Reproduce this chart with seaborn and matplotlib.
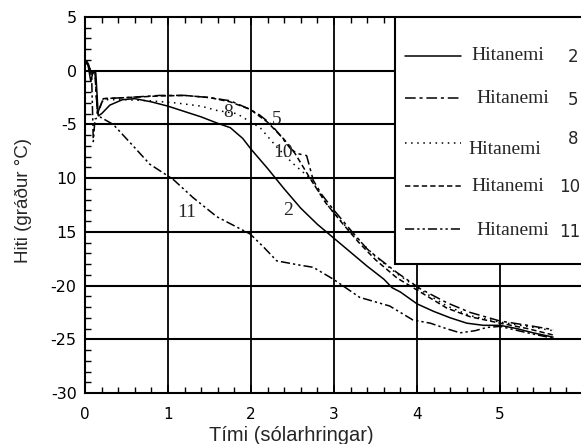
import numpy as np
import pandas as pd
import matplotlib
matplotlib.use("Agg")
import matplotlib.pyplot as plt
from matplotlib.patches import Rectangle
from matplotlib.ticker import MultipleLocator, FixedLocator
import seaborn as sns

# ---- data ----
x2 = [0, 0.03, 0.07, 0.1, 0.13, 0.16, 0.2, 0.3, 0.45, 0.6, 0.8, 1.0, 1.2, 1.4, 1.6, 1.75, 1.9, 2.0,
      2.2, 2.4, 2.6, 2.8, 3.0, 3.2, 3.4, 3.6, 3.7, 3.8, 4.0, 4.2, 4.4, 4.6, 4.8, 5.0, 5.2, 5.4, 5.64]
y2 = [1.0, 0.8, -1.0, 0.0, -0.2, -4.2, -4.0, -3.2, -2.7, -2.6, -2.9, -3.3, -3.8, -4.3, -4.9, -5.3, -6.3, -7.3,
      -9.1, -11.0, -12.8, -14.3, -15.6, -16.9, -18.2, -19.4, -20.2, -20.6, -21.7, -22.4, -23.0, -23.5, -23.7,
      -23.7, -24.0, -24.4, -24.8]

x5 = [0, 0.04, 0.08, 0.12, 0.15, 0.22, 0.5, 0.9, 1.2, 1.5, 1.75, 1.99, 2.1, 2.23, 2.35, 2.47, 2.55, 2.67,
      2.75, 2.85, 2.99, 3.23, 3.4, 3.51, 3.76, 4.04, 4.36, 4.64, 5.0, 5.33, 5.64]
y5 = [0.9, 0.6, -0.3, -0.1, -4.0, -2.6, -2.5, -2.3, -2.3, -2.5, -2.8, -3.6, -4.1, -4.9, -6.0, -7.2, -7.7, -7.9,
      -10.2, -11.5, -12.9, -15.1, -16.6, -17.3, -18.8, -20.3, -21.6, -22.5, -23.3, -23.7, -24.1]

x8 = [0, 0.04, 0.08, 0.12, 0.15, 0.22, 0.5, 0.78, 1.1, 1.4, 1.59, 1.83, 2.11, 2.31, 2.5, 2.71, 2.95, 3.2,
      3.5, 3.76, 4.04, 4.36, 4.64, 5.0, 5.33, 5.64]
y8 = [0.9, 0.6, -0.3, -0.1, -4.0, -2.7, -2.7, -2.8, -3.0, -3.3, -3.7, -4.0, -5.3, -7.1, -8.6, -10.0, -12.8, -15.0,
      -17.3, -18.9, -20.4, -21.9, -22.8, -23.4, -23.8, -24.2]

x10 = [0, 0.04, 0.08, 0.12, 0.15, 0.22, 0.5, 0.9, 1.2, 1.5, 1.75, 1.99, 2.2, 2.4, 2.53, 2.71, 2.9, 3.1,
       3.3, 3.5, 3.76, 4.04, 4.36, 4.64, 5.0, 5.33, 5.64]
y10 = [0.9, 0.6, -0.3, -0.1, -4.0, -2.6, -2.5, -2.35, -2.3, -2.5, -2.9, -3.6, -4.8, -6.4, -7.7, -10.0, -12.3, -14.2,
       -16.0, -17.6, -19.3, -20.6, -22.1, -22.9, -23.5, -24.0, -24.6]

x11 = [0, 0.04, 0.08, 0.1, 0.12, 0.18, 0.34, 0.58, 0.78, 1.06, 1.3, 1.59, 1.99, 2.15, 2.31, 2.59, 2.75, 2.99,
       3.31, 3.67, 3.95, 4.16, 4.35, 4.52, 4.7, 4.84, 5.0, 5.33, 5.64]
y11 = [0.8, 0.5, -0.5, -6.6, -4.5, -4.3, -5.0, -7.0, -8.7, -10.1, -11.8, -13.6, -15.2, -16.4, -17.7, -18.1, -18.3,
       -19.4, -21.1, -21.9, -23.2, -23.5, -24.0, -24.4, -24.2, -23.9, -23.8, -24.4, -24.9]

sensors = ["2", "5", "8", "10", "11"]
legend_text = "Hitanemi"
curve_labels = ["8", "5", "10", "11", "2"]
curve_label_x = [1.72, 2.31, 2.39, 1.22, 2.45]
curve_label_y = [-3.9, -4.5, -7.6, -13.2, -13.0]
xticks = [0, 1, 2, 3, 4, 5]
yticks = [-30, -25, -20, -15, -10, -5, 0, 5]
ytick_labels = ["-30", "-25", "-20", "15", "10", "-5", "0", "5"]
xlabel = "Tími (sólarhringar)"
ylabel = "Hiti (gráður °C)"

series = {"2": (x2, y2), "5": (x5, y5), "8": (x8, y8), "10": (x10, y10), "11": (x11, y11)}
frames = []
for k, (xs, ys) in series.items():
    frames.append(pd.DataFrame({"t": xs, "T": ys, "sensor": k}))
df = pd.concat(frames, ignore_index=True)

dashes = {"2": "", "5": (7, 2.5, 2, 2.5), "8": (1, 3), "10": (3.5, 2), "11": (6, 2, 1.5, 2, 1.5, 2)}

sns.set_style("ticks")
plt.rcParams["font.family"] = ["DejaVu Sans"]

fig = plt.figure(figsize=(5.81, 4.44), dpi=100)
ax = fig.add_axes([85 / 581, 1 - 393 / 444, 1 - 85 / 581, (393 - 17) / 444])

sns.lineplot(data=df, x="t", y="T", style="sensor", dashes=dashes, color="black",
             sort=False, estimator=None, units="sensor", legend=False, linewidth=1.1, ax=ax, zorder=3)

ax.set_xlim(0, 496 / 83)
ax.set_ylim(-30, 5)

# grid
for yv in [0, -5, -10, -15, -20, -25]:
    ax.axhline(yv, color="black", lw=1.5, zorder=1)
for xv in [1, 2, 3, 4, 5]:
    ax.axvline(xv, color="black", lw=1.3, zorder=1)

# legend box (drawn manually, extends past the right edge)
lx0 = 3.735
ax.add_patch(Rectangle((lx0, -18.0), 4, 23.5, facecolor="white", edgecolor="black", lw=1.5, zorder=2))
leg_y = [1.4, -2.5, -6.7, -10.7, -14.7]
txt_dy = [0, -0.1, -0.6, -0.1, -0.2]
num_dy = [-0.1, -0.2, 0.3, -0.1, -0.3]
txt_x = [4.66, 4.72, 4.62, 4.66, 4.72]
num_x = [5.82, 5.82, 5.82, 5.71, 5.71]
for s, ly, tdy, ndy, tx, nx in zip(sensors, leg_y, txt_dy, num_dy, txt_x, num_x):
    ln, = ax.plot([3.86, 4.53], [ly, ly], color="black", lw=1.1, zorder=3)
    d = dashes[s]
    if d:
        ln.set_dashes(d)
    ax.text(tx, ly + tdy, legend_text, family="Liberation Serif", fontsize=14,
            ha="left", va="center", zorder=4)
    ax.text(nx, ly + ndy, s, fontsize=12, ha="left", va="center", zorder=4)

for lab, lxv, lyv in zip(curve_labels, curve_label_x, curve_label_y):
    ax.text(lxv, lyv, lab, family="Liberation Serif", fontsize=14, ha="center", va="center", zorder=4)

ax.xaxis.set_major_locator(FixedLocator(xticks))
ax.xaxis.set_minor_locator(MultipleLocator(0.2))
ax.yaxis.set_major_locator(FixedLocator(yticks))
ax.yaxis.set_minor_locator(MultipleLocator(1))
ax.set_yticklabels(ytick_labels)
ax.tick_params(axis="both", which="both", direction="in", top=True, right=False, colors="black")
ax.tick_params(axis="both", which="major", length=6, width=1.2)
ax.tick_params(axis="both", which="minor", length=4, width=1.0)
ax.tick_params(axis="y", labelsize=11.5, pad=6)
ax.tick_params(axis="x", labelsize=11, pad=10)

for sp in ["left", "bottom", "top"]:
    ax.spines[sp].set_visible(True)
    ax.spines[sp].set_linewidth(1.5)
    ax.spines[sp].set_color("black")
ax.spines["right"].set_visible(False)

ax.set_xlabel(xlabel, family="Liberation Sans", fontsize=14.5)
ax.set_ylabel(ylabel, family="Liberation Sans", fontsize=13.5)
ax.xaxis.set_label_coords(0.415, -0.088)
ax.yaxis.set_label_coords(-0.107, 0.513)

fig.savefig("out.png", dpi=100)
